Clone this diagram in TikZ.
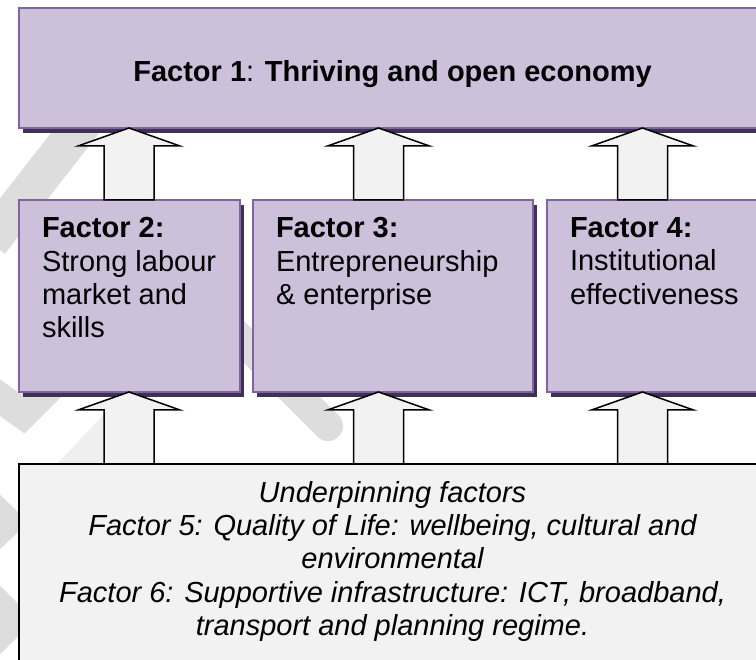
\documentclass[tikz,border=0pt]{standalone}
\usepackage{fontspec}
\setmainfont{Liberation Sans}
\usetikzlibrary{calc,shadows}
\definecolor{lav}{HTML}{CCC0DA}
\definecolor{lavedge}{HTML}{8064A2}
\definecolor{shadec}{HTML}{3F3151}
\definecolor{pale}{HTML}{F2F2F2}
\definecolor{wm}{HTML}{DDDDDD}
\definecolor{wmlight}{HTML}{EFEFEF}
\tikzset{
  pbox/.style={draw=lavedge, line width=2pt, fill=lav, anchor=north west, inner sep=0pt, outer sep=0pt,
    drop shadow={shadow xshift=4pt, shadow yshift=-5pt, fill=shadec, opacity=1}},
  gbox/.style={draw=black, line width=1.5pt, fill=pale, anchor=north west, inner sep=0pt, outer sep=0pt},
  blockarrow/.style={draw=black, line width=1.5pt, fill=pale, line join=miter},
  txt/.style={inner sep=0pt, outer sep=0pt, font=\fontsize{29}{33.4}\selectfont, text=black},
  wmark/.style={draw=wm, line width=30pt, line join=miter},
}
\newcommand{\blockup}[1]{%
  \draw[blockarrow] ($(#1)+(-25,72)$) -- ($(#1)+(-25,18)$) -- ($(#1)+(-51,18)$) -- (#1)
    -- ($(#1)+(51,18)$) -- ($(#1)+(25,18)$) -- ($(#1)+(25,72)$) -- cycle;}
\begin{document}
\begin{tikzpicture}[x=1pt,y=-1pt]
\useasboundingbox (0,0) rectangle (756,660);
\clip (0,0) rectangle (756,660);
\fill[white] (0,0) rectangle (756,660);
% watermark remnants
\draw[wmark, line width=38pt] (-10,242) -- (100,101);
\draw[wmark] (-25,380) -- (23,414) -- (70,367);
\fill[wmlight] (57,464) -- (106,464) -- (106,412) -- cycle;
\draw[wmark, line cap=round] (200,298) -- (328,426);
\draw[wmark, line width=20pt] (-12,497) -- (14,522) -- (-12,547);
\draw[wmark, line width=26pt] (-12,592) -- (16,620) -- (-12,648);
% boxes
\node[pbox, minimum width=747pt, minimum height=120pt] (f1) at (19,8) {};
\node[pbox, minimum width=221pt, minimum height=192pt] (f2) at (19,200) {};
\node[pbox, minimum width=280pt, minimum height=192pt] (f3) at (253,200) {};
\node[pbox, minimum width=280pt, minimum height=192pt] (f4) at (547,200) {};
\node[gbox, minimum width=747pt, minimum height=240pt] (f5) at (19,464) {};
% texts
\node[txt, anchor=base] (t1) at (392.5,82) {\textbf{Factor 1}: \textbf{Thriving and open economy}};
\node[txt, anchor=north west, align=left] (t2) at (42,217.5) {\textbf{Factor 2:}\\Strong labour\\market and\\skills};
\node[txt, anchor=north west, align=left] (t3) at (276,217.5) {\textbf{Factor 3:}\\Entrepreneurship\\\& enterprise};
\node[txt, anchor=north west, align=left] (t4) at (570,217.5) {\textbf{Factor 4:}\\Institutional\\effectiveness};
\node[txt, anchor=north, align=center, font=\fontsize{29}{33.4}\selectfont\itshape] (t5) at (392.5,481) {Underpinning factors\\Factor 5: Quality of Life: wellbeing, cultural and\\environmental\\Factor 6: Supportive infrastructure: ICT, broadband,\\transport and planning regime.};
% arrows
\coordinate (a1) at ($(f1.south west)+(110,0)$);
\coordinate (a2) at ($(f1.south west)+(359.5,0)$);
\coordinate (a3) at ($(f1.south west)+(623.5,0)$);
\coordinate (b1) at ($(f2.south west)+(110,0)$);
\coordinate (b2) at ($(f3.south west)+(125.5,0)$);
\coordinate (b3) at ($(f4.south west)+(95.5,0)$);
\blockup{a1}\blockup{a2}\blockup{a3}
\blockup{b1}\blockup{b2}\blockup{b3}
\end{tikzpicture}
\end{document}
